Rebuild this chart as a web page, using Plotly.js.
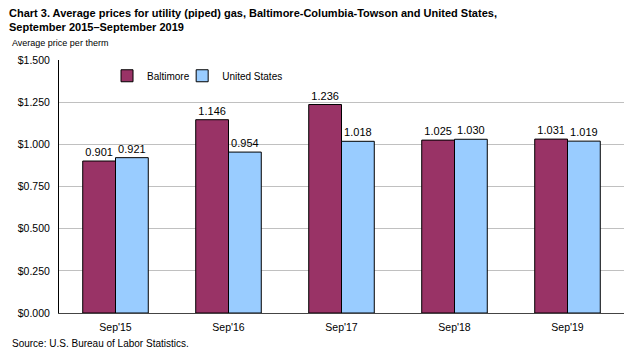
<!DOCTYPE html>
<html><head><meta charset="utf-8">
<script src="https://cdn.plot.ly/plotly-3.0.1.min.js"></script>
<style>body{margin:0;padding:0;background:#fff}#c{width:629px;height:357px}</style>
</head><body><div id="c"></div>
<script>
const categories = ["Sep'15","Sep'16","Sep'17","Sep'18","Sep'19"];
const baltimore = [0.901,1.146,1.236,1.025,1.031];
const unitedStates = [0.921,0.954,1.018,1.030,1.019];
const tickVals = [0,0.25,0.5,0.75,1.0,1.25,1.5];
const tickText = ["$0.000","$0.250","$0.500","$0.750","$1.000","$1.250","$1.500"];

const ff = "Arial, Liberation Sans, sans-serif";
const traces = [
  {type:"bar", name:"Baltimore", x:categories, y:baltimore, legend:"legend",
   marker:{color:"#993366", line:{color:"#000", width:1}},
   text:baltimore.map(v=>v.toFixed(3)), textposition:"outside", cliponaxis:false,
   textfont:{family:ff,size:11,color:"#000"}},
  {type:"bar", name:"United States", x:categories, y:unitedStates, legend:"legend2",
   marker:{color:"#99CCFF", line:{color:"#000", width:1}},
   text:unitedStates.map(v=>v.toFixed(3)), textposition:"outside", cliponaxis:false,
   textfont:{family:ff,size:11,color:"#000"}}
];
const legBase = {orientation:"h", y:0.995, xanchor:"left", yanchor:"top",
    font:{family:ff,size:10,color:"#000"}, bgcolor:"rgba(0,0,0,0)", itemwidth:30};
const layout = {
  width:629, height:357,
  margin:{l:59, r:5, t:60, b:44},
  paper_bgcolor:"#fff", plot_bgcolor:"#fff",
  font:{family:ff,size:11,color:"#000"},
  barmode:"group", bargap:0.42, bargroupgap:0,
  showlegend:true,
  legend:Object.assign({}, legBase, {x:0.085}),
  legend2:Object.assign({}, legBase, {x:0.218}),
  xaxis:{showline:true, linecolor:"#444", linewidth:1, ticks:"", showgrid:false,
    tickfont:{family:ff,size:10.5}, ticklabelstandoff:4, fixedrange:true},
  yaxis:{range:[0,1.5], tickvals:tickVals, ticktext:tickText, showline:true,
    linecolor:"#000", linewidth:1, showgrid:true, gridcolor:"#c0c0c0", gridwidth:1,
    ticks:"", tickfont:{family:ff,size:10.5}, ticklabelstandoff:6, zeroline:false},
  annotations:[
    {text:"<b>Chart 3. Average prices for utility (piped) gas, Baltimore-Columbia-Towson and United States,<br>September 2015–September 2019</b>",
     xref:"paper", yref:"paper", x:-0.092, y:1.217, xanchor:"left", yanchor:"top", align:"left",
     showarrow:false, font:{family:ff,size:11,color:"#000"}},
    {text:"Average price per therm", xref:"paper", yref:"paper", x:-0.0867, y:1.067,
     xanchor:"left", yanchor:"middle", showarrow:false, font:{family:ff,size:9}},
    {text:"Source: U.S. Bureau of Labor Statistics.", xref:"paper", yref:"paper", x:-0.0867, y:-0.1186,
     xanchor:"left", yanchor:"middle", showarrow:false, font:{family:ff,size:10}}
  ]
};
Plotly.newPlot("c", traces, layout, {displayModeBar:false, staticPlot:true});
</script></body></html>
